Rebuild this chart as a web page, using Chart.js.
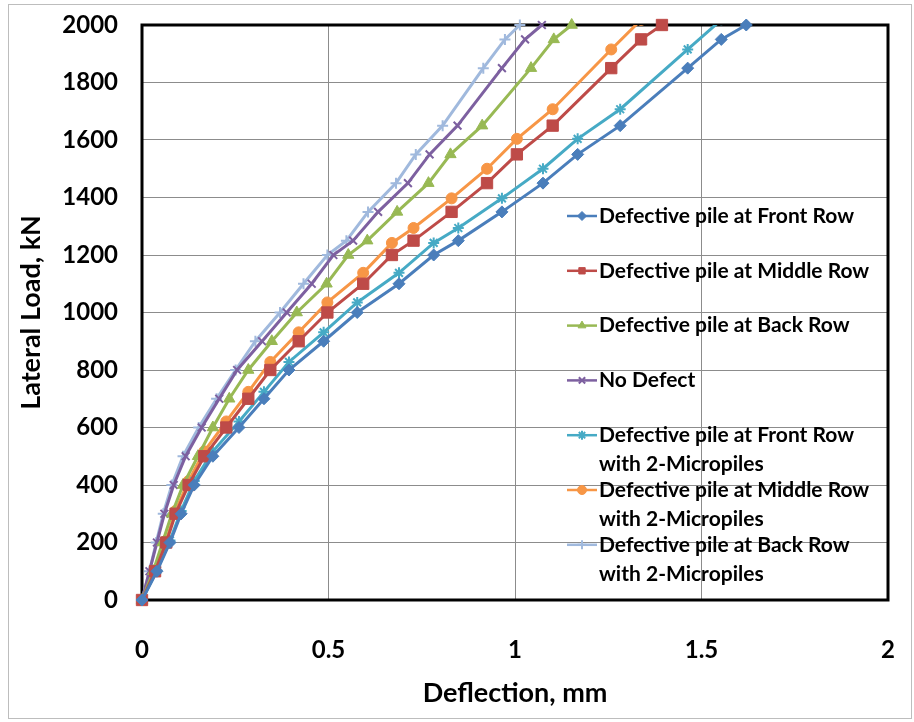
<!DOCTYPE html>
<html>
<head>
<meta charset="utf-8">
<script src="https://cdn.jsdelivr.net/npm/chart.js@4/dist/chart.umd.min.js"></script>
<style>
  body { margin: 0; background: #fff; }
</style>
</head>
<body>
<canvas id="grafico" width="914" height="722"></canvas>
<script>
// loads (kN) and deflections (mm)
const cargas = [0, 100, 200, 300, 400, 500, 600, 700, 800, 900, 1000, 1100, 1200, 1250, 1350, 1450, 1550, 1650, 1850, 1950, 2000];
const cargasMicro = [0, 103, 207, 310, 414, 517, 621, 724, 828, 931, 1035, 1138, 1242, 1294, 1397, 1500, 1604, 1707, 1915, 2018];

const deslFrente = [0, 0.04, 0.075, 0.105, 0.14, 0.19, 0.26, 0.327, 0.394, 0.487, 0.577, 0.689, 0.782, 0.848, 0.965, 1.075, 1.168, 1.282, 1.463, 1.553, 1.62];
const deslMeio = [0, 0.035, 0.065, 0.09, 0.125, 0.167, 0.226, 0.285, 0.344, 0.42, 0.497, 0.593, 0.67, 0.728, 0.83, 0.925, 1.005, 1.101, 1.258, 1.338, 1.394];
const deslTras = [0, 0.03, 0.055, 0.08, 0.11, 0.15, 0.19, 0.234, 0.285, 0.348, 0.415, 0.495, 0.553, 0.604, 0.684, 0.768, 0.827, 0.912, 1.043, 1.104, 1.152];
const deslSemDefeito = [0, 0.02, 0.04, 0.06, 0.085, 0.117, 0.16, 0.207, 0.255, 0.322, 0.388, 0.455, 0.513, 0.566, 0.633, 0.713, 0.771, 0.846, 0.965, 1.027, 1.072];
const deslFrenteMicro = deslFrente.slice(0, 20);
const deslMeioMicro = deslMeio.slice(0, 20);
const deslTrasMicro = [0, 0.02, 0.038, 0.057, 0.08, 0.11, 0.152, 0.2, 0.251, 0.304, 0.37, 0.433, 0.497, 0.548, 0.606, 0.681, 0.734, 0.806, 0.915, 0.973, 1.013];

const ticksX = [0, 0.5, 1, 1.5, 2];
const ticksY = [0, 200, 400, 600, 800, 1000, 1200, 1400, 1600, 1800, 2000];

const nomes = [
  ["Defective pile at Front Row"],
  ["Defective pile at Middle Row"],
  ["Defective pile at Back Row"],
  ["No Defect"],
  ["Defective pile at Front Row", "with 2-Micropiles"],
  ["Defective pile at Middle Row", "with 2-Micropiles"],
  ["Defective pile at Back Row", "with 2-Micropiles"]
];

function pontos(xs, ys) {
  return xs.map((x, i) => ({ x: x, y: ys[i] }));
}

function serie(i, xs, ys, cor, estilo, raio, clip) {
  return {
    label: nomes[i].join(" "),
    data: pontos(xs, ys),
    borderColor: cor,
    backgroundColor: cor,
    borderWidth: 3,
    pointStyle: estilo,
    pointRadius: raio,
    pointBorderWidth: estilo === "crossRot" || estilo === "star" || estilo === "cross" ? 2 : 1,
    pointHoverRadius: raio,
    showLine: true,
    tension: 0,
    clip: clip
  };
}

function semMargem(scale) {
  scale.paddingTop = 0;
  scale.paddingBottom = 0;
  scale.paddingLeft = 0;
  scale.paddingRight = 0;
}

const FONTE = "Lato, 'Liberation Sans', sans-serif";

const fundo = {
  id: "fundo",
  beforeDraw(chart) {
    const ctx = chart.ctx;
    ctx.save();
    ctx.fillStyle = "#fff";
    ctx.fillRect(0, 0, chart.width, chart.height);
    ctx.strokeStyle = "#bdbdbd";
    ctx.lineWidth = 1;
    ctx.strokeRect(8.5, 4.5, 903, 714);
    ctx.restore();
  },
  beforeDatasetsDraw(chart) {
    const a = chart.chartArea;
    const ctx = chart.ctx;
    ctx.save();
    ctx.strokeStyle = "#000";
    ctx.lineWidth = 3;
    ctx.strokeRect(a.left, a.top, a.right - a.left, a.bottom - a.top);
    ctx.restore();
  }
};

const legenda = {
  id: "legenda",
  afterDatasetsDraw(chart) {
    const ctx = chart.ctx;
    const x0 = 567, x1 = 597, y0 = 216, passo = 54.8;
    ctx.save();
    ctx.font = "bold 21px " + FONTE;
    ctx.textBaseline = "middle";
    chart.data.datasets.forEach((ds, i) => {
      const y = y0 + i * passo;
      ctx.strokeStyle = ds.borderColor;
      ctx.lineWidth = 2.5;
      ctx.beginPath();
      ctx.moveTo(x0, y);
      ctx.lineTo(x1, y);
      ctx.stroke();
      ctx.fillStyle = ds.backgroundColor;
      ctx.lineWidth = ds.pointBorderWidth;
      Chart.helpers.drawPoint(ctx, { pointStyle: ds.pointStyle, radius: 4.5, rotation: 0, borderWidth: ds.pointBorderWidth }, (x0 + x1) / 2, y);
      ctx.fillStyle = "#000";
      nomes[i].forEach((linha, k) => ctx.fillText(linha, 599, y + k * 29));
    });
    ctx.restore();
  }
};

new Chart(document.getElementById("grafico"), {
  type: "scatter",
  data: {
    datasets: [
      serie(0, deslFrente, cargas, "#4a7ebb", "rectRot", 6, 8),
      serie(1, deslMeio, cargas, "#be4b48", "rect", 8, 8),
      serie(2, deslTras, cargas, "#98b954", "triangle", 6.5, 8),
      serie(3, deslSemDefeito, cargas, "#7d60a0", "crossRot", 5.5, 8),
      serie(4, deslFrenteMicro, cargasMicro, "#46aac5", "star", 5.5, 0),
      serie(5, deslMeioMicro, cargasMicro, "#f79646", "circle", 5.5, 0),
      serie(6, deslTrasMicro, cargas, "#a0b9dd", "cross", 5.5, 8)
    ]
  },
  options: {
    responsive: false,
    animation: false,
    layout: { autoPadding: false, padding: { top: 25, right: 26, left: 0, bottom: 0 } },
    plugins: {
      legend: { display: false },
      tooltip: { enabled: false }
    },
    scales: {
      x: {
        type: "linear",
        min: 0,
        max: 2,
        afterFit(scale) { scale.height = 122; semMargem(scale); },
        afterBuildTicks(scale) { scale.ticks = ticksX.map(v => ({ value: v })); },
        grid: { color: "#8c8c8c", lineWidth: 1, drawTicks: false },
        border: { display: false },
        ticks: {
          padding: 36,
          color: "#000",
          font: { family: FONTE, size: 24, weight: "bold" },
          callback: v => String(v)
        },
        title: {
          display: true,
          text: "Deflection, mm",
          color: "#000",
          font: { family: FONTE, size: 27, weight: "bold" },
          padding: { top: 0, bottom: 13 }
        }
      },
      y: {
        type: "linear",
        min: 0,
        max: 2000,
        afterFit(scale) { scale.width = 142; semMargem(scale); },
        afterBuildTicks(scale) { scale.ticks = ticksY.map(v => ({ value: v })); },
        grid: { color: "#8c8c8c", lineWidth: 1, drawTicks: false },
        border: { display: false },
        ticks: {
          padding: 24,
          color: "#000",
          font: { family: FONTE, size: 24, weight: "bold" },
          callback: v => String(v)
        },
        title: {
          display: true,
          text: "Lateral Load, kN",
          color: "#000",
          font: { family: FONTE, size: 27, weight: "bold" },
          padding: { top: 15, bottom: 0 }
        }
      }
    }
  },
  plugins: [fundo, legenda]
});
</script>
</body>
</html>
